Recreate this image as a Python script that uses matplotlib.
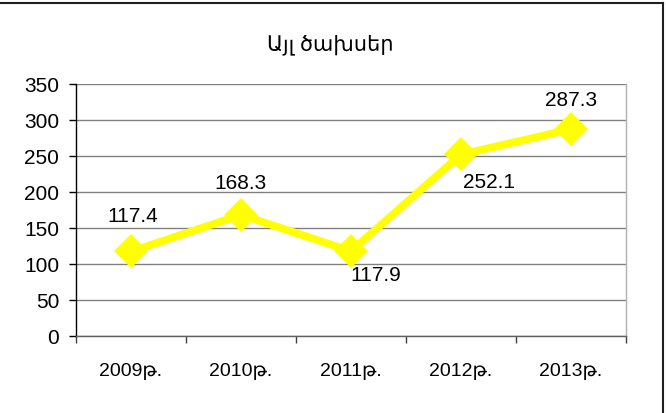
#!/usr/bin/env python3
import matplotlib

matplotlib.use("Agg")
import matplotlib.pyplot as plt  # noqa: E402
from matplotlib.lines import Line2D  # noqa: E402

plt.rcParams["font.family"] = ["Liberation Sans", "DejaVu Sans"]

TITLE = "Այլ ծախսեր"
years = ["2009թ.", "2010թ.", "2011թ.", "2012թ.", "2013թ."]
values = [117.4, 168.3, 117.9, 252.1, 287.3]
y_ticks = [0, 50, 100, 150, 200, 250, 300, 350]
# label offsets in pixels (dx, dy)
label_offsets = [(2, 36), (0, 32), (25, -23), (28, -27), (0, 30)]

W, H = 666, 414
fig = plt.figure(figsize=(W / 100, H / 100), dpi=100)
ax = fig.add_axes([76 / W, 1 - 337 / H, 550 / W, 252 / H])

x = list(range(len(years)))
ax.plot(x, values, color="#ffff00", lw=5.5, marker="D", markersize=17,
        markeredgewidth=0, solid_joinstyle="miter", zorder=3, clip_on=False)

for i, v in enumerate(values):
    dx, dy = label_offsets[i]
    ax.annotate(f"{v:.1f}", (x[i], v), xytext=(dx, dy), textcoords="offset pixels",
                ha="center", va="center", fontsize=15, color="black", zorder=4)

ax.set_xlim(-0.5, len(years) - 0.5)
ax.set_ylim(0, 350)
ax.set_yticks(y_ticks)
ax.set_yticklabels([str(t) for t in y_ticks], fontsize=15)
ax.set_xticks(x)
ax.set_xticklabels(years, fontsize=14)
ax.set_xticks([i - 0.5 for i in range(len(years) + 1)], minor=True)
ax.tick_params(axis="x", which="major", length=0, pad=19)
ax.tick_params(axis="x", which="minor", length=5, width=1, color="#404040", direction="out")
ax.tick_params(axis="y", which="major", length=5, width=1, color="black", pad=7)

ax.yaxis.grid(True, color="#808080", lw=1)
ax.set_axisbelow(True)
ax.spines["top"].set_visible(False)
ax.spines["right"].set_color("#b0b0b0")
ax.spines["left"].set_color("black")
ax.spines["bottom"].set_color("#606060")
for s in ax.spines.values():
    s.set_linewidth(1)

fig.text(330 / W, 1 - 45 / H, TITLE, ha="center", va="center", fontsize=15)

# outer frame (top and right edges visible)
fig.add_artist(Line2D([0, 663 / W], [1 - 3.5 / H, 1 - 3.5 / H], color="#202020", lw=1.5,
                      transform=fig.transFigure))
fig.add_artist(Line2D([663 / W, 663 / W], [0, 1 - 3.5 / H], color="#202020", lw=1.5,
                      transform=fig.transFigure))

fig.savefig("out.png", dpi=100)
